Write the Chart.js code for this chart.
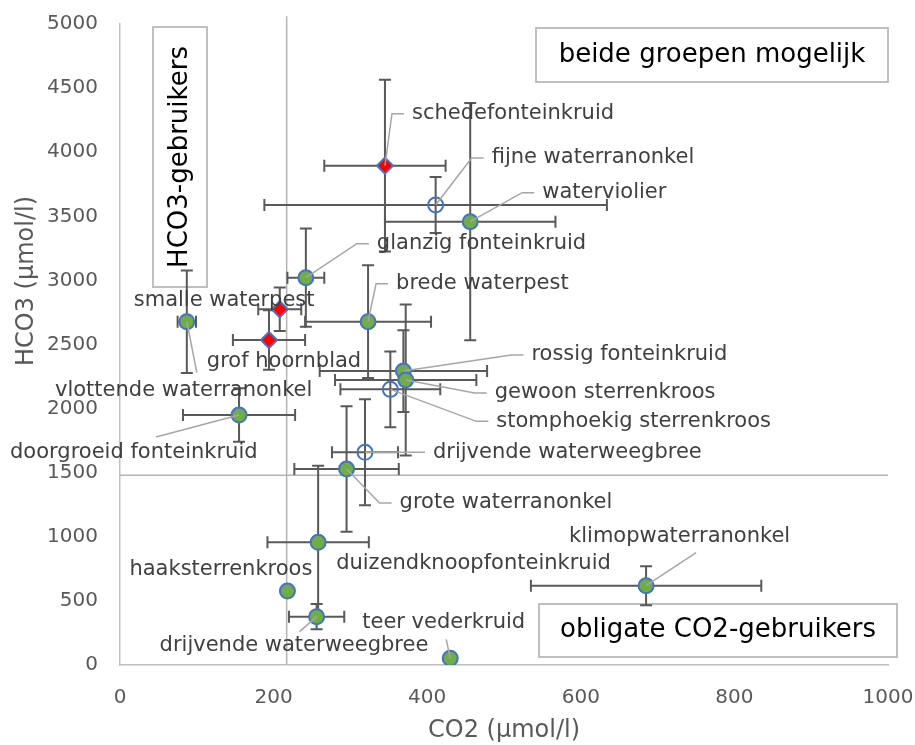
<!DOCTYPE html>
<html>
<head>
<meta charset="utf-8">
<script src="https://cdn.jsdelivr.net/npm/chart.js@4.4.1/dist/chart.umd.min.js"></script>
<style>
  html, body { margin: 0; padding: 0; background: #fff; }
  canvas { display: block; }
</style>
</head>
<body>
<canvas id="chart-hco3" width="915" height="745"></canvas>
<script>
// groene punten (gevulde cirkels)
var greenNames = ['waterviolier', 'glanzig fonteinkruid', 'brede waterpest', 'grof hoornblad',
    'rossig fonteinkruid', 'gewoon sterrenkroos', 'doorgroeid fonteinkruid', 'grote waterranonkel',
    'duizendknoopfonteinkruid', 'haaksterrenkroos', 'drijvende waterweegbree', 'teer vederkruid',
    'klimopwaterranonkel'];
var greenCO2     = [456, 242, 323,   87,  369,  372,  155,  295, 258, 218, 256, 430, 685];
var greenHCO3    = [3458, 3021, 2678, 2678, 2293, 2223, 1950, 1529, 957, 577, 377, 52, 619];
var greenCO2Err  = [111,  24,  82,  12, 109,  92,  73,  68,  66,   0,  36,   0, 150];
var greenHCO3Err = [925, 383, 440, 400, 319, 589, 208, 490, 598,   0,  98,   0, 152];

// open cirkels
var openNames = ['fijne waterranonkel', 'stomphoekig sterrenkroos', 'drijvende waterweegbree'];
var openCO2     = [411, 352, 319];
var openHCO3    = [3588, 2150, 1659];
var openCO2Err  = [223, 65, 43];
var openHCO3Err = [218, 295, 413];

// rode ruiten
var redNames = ['schedefonteinkruid', 'smalle waterpest', 'vlottende waterranonkel'];
var redCO2     = [345, 208, 194];
var redHCO3    = [3895, 2775, 2535];
var redCO2Err  = [79, 28, 47];
var redHCO3Err = [670, 170, 232];

// grenslijnen
var refCO2 = 217;
var refHCO3 = 1480;

var xTickValues = [0, 200, 400, 600, 800, 1000];
var yTickValues = [0, 500, 1000, 1500, 2000, 2500, 3000, 3500, 4000, 4500, 5000];

// plaats van de labels t.o.v. het punt in px: [dx, dy, leader]
// 'e' = lijn met knik, [ex, ey] = rechte lijn, null = geen lijn
var greenLabelPos = [[72, -29, 'e'], [71, -34, 'e'], [28, -38, 'e'], [20, 40, [10, 51]],
    [128, -16, 'e'], [89, 13, 'e'], [-229, 38, [-83, 22]], [53, 34, 'e'], [18, 21, null],
    [-158, -21, null], [-157, 29, [-17, 15]], [-88, -36, [-4, -19]], [-77, -49, [50, -33]]];
var openLabelPos = [[56, -47, 'e'], [106, 32, 'e'], [68, 0, 'e']];
var redLabelPos = [[27, -52, 'e'], [-146, -9, null], [-214, 51, null]];

var FONT = 'DejaVu Sans';

function toPoints(xs, ys) {
    return xs.map(function(x, i) { return {x: x, y: ys[i]}; });
}

var series = [
    {names: greenNames, co2: greenCO2, hco3: greenHCO3, co2Err: greenCO2Err, hco3Err: greenHCO3Err, pos: greenLabelPos},
    {names: openNames, co2: openCO2, hco3: openHCO3, co2Err: openCO2Err, hco3Err: openHCO3Err, pos: openLabelPos},
    {names: redNames, co2: redCO2, hco3: redHCO3, co2Err: redCO2Err, hco3Err: redHCO3Err, pos: redLabelPos}
];

var errorBars = {
    id: 'errorBars',
    beforeDatasetDraw: function(chart, args) {
        if (args.index !== 0) return;
        var ctx = chart.ctx, xs = chart.scales.x, ys = chart.scales.y;
        var cap = 6;
        ctx.save();
        ctx.strokeStyle = '#595959';
        ctx.lineWidth = 2;
        series.forEach(function(s) {
            s.co2.forEach(function(v, i) {
                var px = xs.getPixelForValue(v), py = ys.getPixelForValue(s.hco3[i]);
                ctx.beginPath();
                if (s.co2Err[i]) {
                    var x1 = xs.getPixelForValue(v - s.co2Err[i]), x2 = xs.getPixelForValue(v + s.co2Err[i]);
                    ctx.moveTo(x1, py); ctx.lineTo(x2, py);
                    ctx.moveTo(x1, py - cap); ctx.lineTo(x1, py + cap);
                    ctx.moveTo(x2, py - cap); ctx.lineTo(x2, py + cap);
                }
                if (s.hco3Err[i]) {
                    var y1 = ys.getPixelForValue(s.hco3[i] - s.hco3Err[i]), y2 = ys.getPixelForValue(s.hco3[i] + s.hco3Err[i]);
                    ctx.moveTo(px, y1); ctx.lineTo(px, y2);
                    ctx.moveTo(px - cap, y1); ctx.lineTo(px + cap, y1);
                    ctx.moveTo(px - cap, y2); ctx.lineTo(px + cap, y2);
                }
                ctx.stroke();
            });
        });
        ctx.restore();
    }
};

function drawBox(ctx, x, y, w, h, text, rotate) {
    ctx.save();
    ctx.fillStyle = '#fff';
    ctx.fillRect(x, y, w, h);
    ctx.strokeStyle = '#bfbfbf';
    ctx.lineWidth = 2;
    ctx.strokeRect(x, y, w, h);
    ctx.fillStyle = '#000';
    ctx.font = '26px "' + FONT + '"';
    ctx.textAlign = 'center';
    ctx.textBaseline = 'middle';
    ctx.translate(x + w / 2, y + h / 2);
    if (rotate) ctx.rotate(-Math.PI / 2);
    ctx.fillText(text, 0, 0);
    ctx.restore();
}

var boxes = {
    id: 'boxes',
    beforeDatasetsDraw: function(chart) {
        var ctx = chart.ctx;
        drawBox(ctx, 536, 28, 352, 54, 'beide groepen mogelijk', false);
        drawBox(ctx, 539, 604, 358, 53, 'obligate CO2-gebruikers', false);
        drawBox(ctx, 153, 27, 54, 260, 'HCO3-gebruikers', true);
    }
};

var pointLabels = {
    id: 'pointLabels',
    afterDatasetsDraw: function(chart) {
        var ctx = chart.ctx, xs = chart.scales.x, ys = chart.scales.y;
        ctx.save();
        ctx.font = '21px "' + FONT + '"';
        ctx.textAlign = 'left';
        ctx.textBaseline = 'middle';
        series.forEach(function(s) {
            s.names.forEach(function(name, i) {
                var px = xs.getPixelForValue(s.co2[i]), py = ys.getPixelForValue(s.hco3[i]);
                var p = s.pos[i];
                var tx = px + p[0], ty = py + p[1];
                ctx.strokeStyle = '#a6a6a6';
                ctx.lineWidth = 1.5;
                if (p[2] === 'e') {
                    ctx.beginPath();
                    ctx.moveTo(px, py);
                    ctx.lineTo(tx - 20, ty);
                    ctx.lineTo(tx - 8, ty);
                    ctx.stroke();
                } else if (p[2]) {
                    ctx.beginPath();
                    ctx.moveTo(px, py);
                    ctx.lineTo(px + p[2][0], py + p[2][1]);
                    ctx.stroke();
                }
                ctx.fillStyle = '#404040';
                ctx.fillText(name, tx, ty);
            });
        });
        ctx.restore();
    }
};

var axisTitles = {
    id: 'axisTitles',
    afterDraw: function(chart) {
        var ctx = chart.ctx;
        ctx.save();
        ctx.fillStyle = '#595959';
        ctx.font = '24px "' + FONT + '"';
        ctx.textAlign = 'center';
        ctx.textBaseline = 'middle';
        ctx.fillText('CO2 (\u00b5mol/l)', 504, 731);
        ctx.translate(27, 281);
        ctx.rotate(-Math.PI / 2);
        ctx.fillText('HCO3 (\u00b5mol/l)', 0, 0);
        ctx.restore();
    }
};

function noPadding(scale) {
    scale.paddingLeft = 0;
    scale.paddingRight = 0;
    scale.paddingTop = 0;
    scale.paddingBottom = 0;
}

var ctx = document.getElementById('chart-hco3');
var chart = new Chart(ctx, {
    type: 'scatter',
    data: {
        datasets: [
            {
                data: toPoints(greenCO2, greenHCO3),
                pointStyle: 'circle',
                pointRadius: 7.5,
                backgroundColor: '#70AD47',
                borderColor: '#4472C4',
                borderWidth: 2,
                order: 3
            },
            {
                data: toPoints(openCO2, openHCO3),
                pointStyle: 'circle',
                pointRadius: 7.5,
                backgroundColor: 'rgba(0,0,0,0)',
                borderColor: '#4472C4',
                borderWidth: 2,
                order: 2
            },
            {
                data: toPoints(redCO2, redHCO3),
                pointStyle: 'rectRot',
                pointRadius: 8,
                backgroundColor: '#FF0000',
                borderColor: '#4472C4',
                borderWidth: 2,
                order: 1
            },
            {
                type: 'line',
                data: [{x: refCO2, y: 0}, {x: refCO2, y: 5060}],
                borderColor: '#b4b4b4',
                borderWidth: 1.5,
                pointRadius: 0,
                clip: false,
                order: 10
            },
            {
                type: 'line',
                data: [{x: 0, y: refHCO3}, {x: 1000, y: refHCO3}],
                borderColor: '#b4b4b4',
                borderWidth: 1.5,
                pointRadius: 0,
                order: 10
            }
        ]
    },
    options: {
        responsive: false,
        devicePixelRatio: 1,
        animation: false,
        events: [],
        layout: { padding: { left: 0, top: 24, right: 27, bottom: 0 } },
        plugins: { legend: { display: false }, tooltip: { enabled: false } },
        scales: {
            x: {
                type: 'linear',
                min: 0,
                max: 1000,
                afterBuildTicks: function(scale) {
                    scale.ticks = xTickValues.map(function(v) { return {value: v}; });
                },
                afterFit: function(scale) { scale.height = 80; noPadding(scale); },
                grid: { display: false, drawTicks: false },
                border: { display: true, color: '#bfbfbf', width: 1.5 },
                ticks: {
                    padding: 21, color: '#595959', font: { family: FONT, size: 20 },
                    callback: function(v) { return String(v); }
                }
            },
            y: {
                type: 'linear',
                min: 0,
                max: 5000,
                afterBuildTicks: function(scale) {
                    scale.ticks = yTickValues.map(function(v) { return {value: v}; });
                },
                afterFit: function(scale) { scale.width = 120; noPadding(scale); },
                grid: { display: false, drawTicks: false },
                border: { display: true, color: '#bfbfbf', width: 1.5 },
                ticks: {
                    padding: 22, color: '#595959', font: { family: FONT, size: 20 },
                    callback: function(v) { return String(v); }
                }
            }
        }
    },
    plugins: [boxes, errorBars, pointLabels, axisTitles]
});
</script>
</body>
</html>
